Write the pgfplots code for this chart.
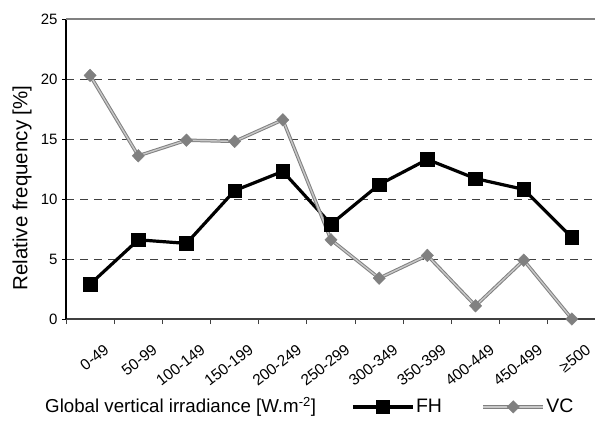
\documentclass[border=0pt]{standalone}
\usepackage{pgfplots}
\pgfplotsset{compat=1.18}
\usepackage{fontspec}
\setmainfont{Liberation Sans}
\definecolor{vcgray}{HTML}{808080}
\definecolor{vclight}{HTML}{C8C8C8}
\definecolor{gridc}{HTML}{404040}
\begin{document}
\begin{tikzpicture}
\path[use as bounding box] (0,0) rectangle (595pt,421pt);
\begin{axis}[
  at={(66pt,102pt)}, anchor=south west,
  width=530pt, height=300pt, scale only axis,
  xmin=-0.5, xmax=10.5, ymin=0, ymax=25,
  clip=false,
  axis x line*=bottom, axis y line*=left,
  x axis line style={draw=gridc, line width=1.4pt, -},
  y axis line style={draw=black, line width=1.1pt, -},
  xtick={0,...,10},
  xticklabels={0-49,50-99,100-149,150-199,200-249,250-299,300-349,350-399,400-449,450-499,≥500},
  major x tick style={draw=none},
  minor xtick={-0.5,0.5,...,10.5},
  minor x tick style={draw=gridc, line width=1pt},
  minor tick length=5pt,
  ytick={0,5,10,15,20},
  extra y ticks={25},
  extra y tick style={grid style={solid, draw=vcgray, line width=1.2pt}},
  ymajorgrids,
  grid style={dashed, dash pattern=on 8pt off 6pt, draw=gridc, line width=0.9pt},
  major y tick style={draw=black, line width=0.9pt},
  major tick length=4pt,
  tick align=outside,
  /pgf/number format/assume math mode=true,
  tick label style={font=\fontsize{15}{17}\selectfont},
  xticklabel style={font=\fontsize{15.5}{17}\selectfont, rotate=38, anchor=north east, inner sep=0pt, xshift=-2pt, yshift=-24pt},
  yticklabel style={xshift=-1pt},
  xlabel={Global vertical irradiance [W.m\textsuperscript{-2}]},
  xlabel style={at={(axis description cs:-0.0396,-0.293)}, anchor=west, font=\fontsize{18.7}{21}\selectfont, inner sep=0pt},
  ylabel={Relative frequency [\%]},
  ylabel style={at={(axis description cs:-0.083,0.437)}, anchor=center, font=\fontsize{20.5}{22}\selectfont},
  legend columns=2,
  legend style={at={(axis description cs:0.538,-0.293)}, anchor=west, draw=none, fill=none, inner sep=0pt,
    font=\fontsize{19.5}{21}\selectfont, nodes={inner sep=1.5pt},
    /tikz/every even column/.append style={column sep=38pt}},
  legend image code/.code={\draw[mark repeat=2, mark phase=2, #1] plot coordinates {(0pt,0pt) (30pt,0pt) (60pt,0pt)};},
]
\addplot[black, line width=3.2pt, mark=square*, mark size=6.8pt, mark options={solid, line width=0.5pt, fill=black}]
  coordinates {(0,2.9) (1,6.6) (2,6.3) (3,10.7) (4,12.3) (5,7.9) (6,11.2) (7,13.3) (8,11.7) (9,10.8) (10,6.8)};
\addlegendentry{FH}
\addplot[draw=vclight, line width=1.4pt, preaction={draw=vcgray, line width=3.4pt},
  mark=diamond*, mark size=6.3pt, mark options={solid, xscale=1.3, fill=vcgray, draw=vcgray, line width=0.4pt}]
  coordinates {(0,20.3) (1,13.6) (2,14.9) (3,14.8) (4,16.6) (5,6.6) (6,3.4) (7,5.3) (8,1.1) (9,4.9) (10,0.0)};
\addlegendentry{VC}
\end{axis}
\end{tikzpicture}
\end{document}
